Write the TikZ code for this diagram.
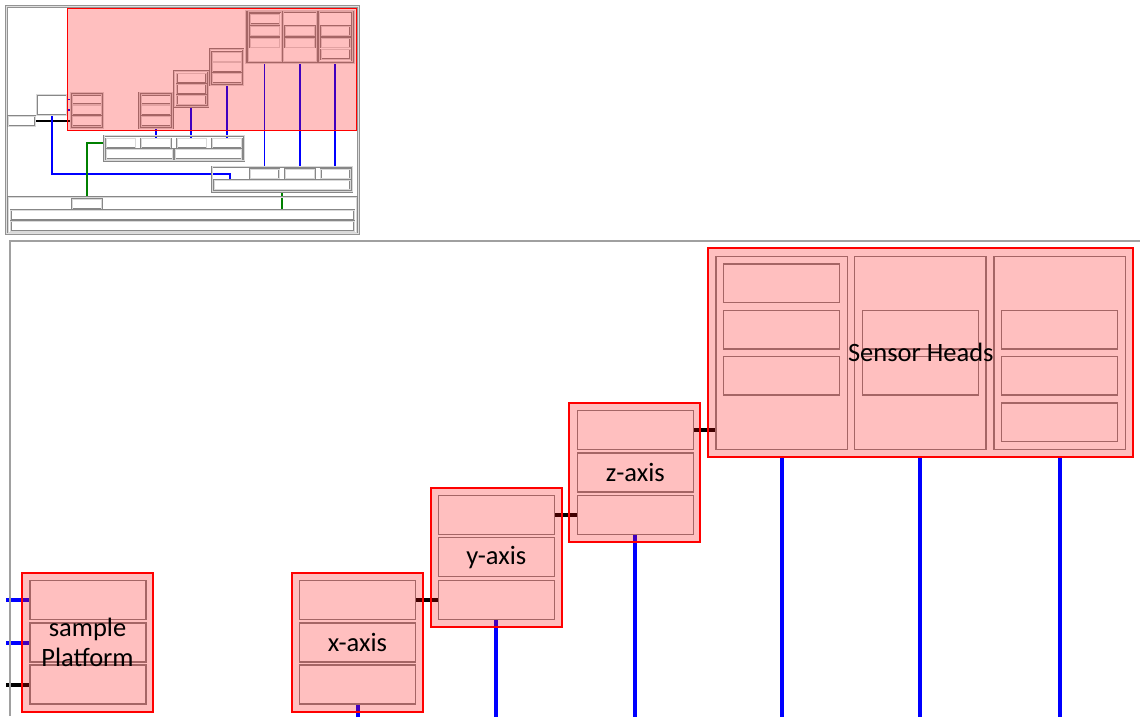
\documentclass[tikz,border=0pt]{standalone}
\usepackage{fontspec}
\setmainfont{Carlito}
\usetikzlibrary{backgrounds}
\definecolor{boxgray}{RGB}{160,160,160}
\definecolor{rowgray}{RGB}{135,135,135}
\definecolor{wireblue}{RGB}{0,0,255}
\definecolor{wiregreen}{RGB}{0,128,0}

\begin{document}
\begin{tikzpicture}[x=1pt, y=-1pt,
  every node/.style={inner sep=0pt},
  minibox/.style={draw=rowgray, line width=0.6pt, double=boxgray!40, double distance=0.6pt},
  minirow/.style={minibox, minimum width=29.4, minimum height=9.6},
  rowbox/.style={draw=rowgray, line width=1.3pt, minimum width=116, minimum height=39},
  colbox/.style={draw=rowgray, line width=1.3pt, minimum width=131.3, minimum height=193},
  selbox/.style={draw=red, line width=2pt, fill=red, fill opacity=0.25},
  wire/.style={line width=4pt},
  miniwire/.style={line width=1.8pt},
  lbl/.style={font=\fontsize{26.5}{30}\selectfont, align=center}]
\useasboundingbox (0,0) rectangle (1140,716);

% Overview frame
\draw[draw=gray!85, line width=0.8pt, double=gray!25, double distance=1pt] (6.5,6.5) rectangle (358.5,233.5);
% Overview: left boxes
\node[minibox, minimum width=26.7, minimum height=10] (msmall) at (21.7,121) {};
\node[minibox, minimum width=30, minimum height=20.7] (mwhite) at (51.7,105) {};
% Overview: platform and axes
\node[minibox, minimum width=32.6, minimum height=35.6] (msp) at (87,110.5) {};
\node[minirow] (msp1) at (87,99.5) {};
\node[minirow] (msp2) at (87,110.2) {};
\node[minirow] (msp3) at (87,121) {};
\node[minibox, minimum width=33.4, minimum height=35.6] (mxa) at (156,110.5) {};
\node[minirow] (mxa1) at (156,99.5) {};
\node[minirow] (mxa2) at (156,110.2) {};
\node[minirow] (mxa3) at (156,121) {};
\node[minibox, minimum width=34, minimum height=35.7] (mya) at (191.3,88.8) {};
\node[minirow] (mya1) at (191.3,78.3) {};
\node[minirow] (mya2) at (191.3,89) {};
\node[minirow] (mya3) at (191.3,99.8) {};
\node[minibox, minimum width=33.3, minimum height=35.7] (mza) at (226.7,67.2) {};
\node[minirow] (mza1) at (226.7,56.7) {};
\node[minirow] (mza2) at (226.7,67.3) {};
\node[minirow] (mza3) at (226.7,78.1) {};
% Overview: sensor heads
\node[minibox, minimum width=108.3, minimum height=52.6] (msh) at (299.9,37) {};
\node[minibox, minimum width=33.4, minimum height=50] (mshc1) at (265,36.7) {};
\node[minibox, minimum width=33.4, minimum height=50] (mshc2) at (300,36.7) {};
\node[minibox, minimum width=33.4, minimum height=50] (mshc3) at (335.5,36.7) {};
\node[minirow] (msh11) at (264.7,19) {};
\node[minirow] (msh12) at (264.7,30.9) {};
\node[minirow] (msh13) at (264.7,42.7) {};
\node[minirow] (msh21) at (300,30.9) {};
\node[minirow] (msh22) at (300,42.7) {};
\node[minirow] (msh31) at (335.5,30.9) {};
\node[minirow] (msh32) at (335.5,42.7) {};
\node[minirow] (msh33) at (335.5,54.3) {};
% Overview: controllers
\node[minibox, minimum width=140, minimum height=25] (mmid) at (174,148.2) {};
\node[minirow] (mm1) at (120.7,143.3) {};
\node[minirow] (mm2) at (156,143.3) {};
\node[minirow] (mm3) at (191.7,143.3) {};
\node[minirow] (mm4) at (227,143.3) {};
\node[minibox, minimum width=66.7, minimum height=9.7] (mm5) at (139.3,154.2) {};
\node[minibox, minimum width=66.4, minimum height=9.7] (mm6) at (208.5,154.2) {};
\node[minibox, minimum width=140.3, minimum height=25] (mrt) at (282.2,179.2) {};
\node[minirow] (mr1) at (264.5,173.7) {};
\node[minirow] (mr2) at (300,173.7) {};
\node[minirow] (mr3) at (335.3,173.7) {};
\node[minibox, minimum width=135.7, minimum height=9.7] (mr4) at (282.2,184.9) {};
\node[minibox, minimum width=348.4, minimum height=35.5] (mbt) at (182.5,214.8) {};
\node[minirow] (mb1) at (87,204) {};
\node[minibox, minimum width=343.3, minimum height=10] (mb2) at (182.3,215) {};
\node[minibox, minimum width=343.3, minimum height=10] (mb3) at (182.3,226) {};
% Overview: view window
\draw[draw=red, line width=1pt, fill=red, fill opacity=0.25] (67.7,8.3) rectangle (356.7,130);

% Detail view frame
\draw[draw=boxgray, line width=1.3pt] (10,716) -- (10,241) -- (1140,241);
% Sample platform
\node[rowbox] (sp1) at (88,600) {};
\node[rowbox] (sp2) at (88,642.5) {};
\node[rowbox] (sp3) at (88,684.5) {};
\node[selbox, minimum width=131, minimum height=139] (sp) at (87.5,642.5) {};
% x-axis
\node[rowbox] (xa1) at (357.5,600) {};
\node[rowbox] (xa2) at (357.5,642.5) {};
\node[rowbox] (xa3) at (357.5,684.5) {};
\node[selbox, minimum width=131, minimum height=139] (xa) at (357.5,642.5) {};
% y-axis
\node[rowbox] (ya1) at (496.3,515) {};
\node[rowbox] (ya2) at (496.3,557.3) {};
\node[rowbox] (ya3) at (496.3,599.8) {};
\node[selbox, minimum width=131, minimum height=139] (ya) at (496.6,557.5) {};
% z-axis
\node[rowbox] (za1) at (635.3,430) {};
\node[rowbox] (za2) at (635.3,472.5) {};
\node[rowbox] (za3) at (635.3,515) {};
\node[selbox, minimum width=131, minimum height=139] (za) at (634.8,472.8) {};
% Sensor heads
\node[colbox] (shc1) at (781.7,352.7) {};
\node[colbox] (shc2) at (920.3,352.7) {};
\node[colbox] (shc3) at (1059.5,352.7) {};
\node[rowbox, minimum height=38.5] (sh11) at (781.3,283.2) {};
\node[rowbox, minimum height=38.5] (sh12) at (781.3,329.8) {};
\node[rowbox, minimum height=38.5] (sh13) at (781.3,375.8) {};
\node[rowbox, minimum height=38.5] (sh21) at (920.5,329.8) {};
\node[rowbox, minimum height=38.5] (sh22) at (920.5,375.8) {};
\node[rowbox, minimum height=38.5] (sh31) at (1059.3,329.8) {};
\node[rowbox, minimum height=38.5] (sh32) at (1059.3,375.8) {};
\node[rowbox, minimum height=38.5] (sh33) at (1059.3,422.3) {};
\node[selbox, minimum width=425, minimum height=209] (sh) at (920.8,352.8) {};
% Labels
\node[lbl] (splbl) at (sp.center) {sample\\Platform};
\node[lbl] (xalbl) at (xa2.center) {x-axis};
\node[lbl] (yalbl) at (ya2.center) {y-axis};
\node[lbl] (zalbl) at (za2.center) {z-axis};
\node[lbl] (shlbl) at (sh.center) {Sensor Heads};

\begin{scope}[on background layer]
\fill[white] (0,0) rectangle (1140,716);
% Overview connections
\draw[miniwire] (msmall.east) -- (msp3.west);
\draw[miniwire, wireblue] (mwhite.east |- msp1.west) -- (msp1.west);
\draw[miniwire, wireblue] (mwhite.east |- msp2.west) -- (msp2.west);
\draw[miniwire, wireblue] (mwhite.south) -- ++(0,58) -| ([xshift=-52.2pt]mr4.north);
\draw[miniwire, wireblue] (mxa.south) -- (mxa.south |- mm2.north);
\draw[miniwire, wireblue] (mya.south) -- (mya.south |- mm3.north);
\draw[miniwire, wireblue] (mza.south) -- (mza.south |- mm4.north);
\draw[miniwire, wireblue] (mr1.north |- msh.south) -- (mr1.north);
\draw[miniwire, wireblue] (mr2.north |- msh.south) -- (mr2.north);
\draw[miniwire, wireblue] (mr3.north |- msh.south) -- (mr3.north);
\draw[miniwire, wiregreen] (mm1.west) -| (mb1.north);
\draw[miniwire, wiregreen] (mrt.south) -- (mrt.south |- mb2.north);
% Detail connections
\coordinate (in1) at (6,600);
\coordinate (in2) at (6,642.5);
\coordinate (in3) at (6,684.5);
\draw[wire, wireblue] (in1) -- (sp1.west);
\draw[wire, wireblue] (in2) -- (sp2.west);
\draw[wire] (in3) -- (sp3.west);
\draw[wire] (xa1.east) -- (xa1.east -| ya3.west);
\draw[wire] (ya1.east) -- (ya1.east -| za3.west);
\draw[wire] (za1.east) -- (za1.east -| shc1.west);
\draw[wire, wireblue] (xa3.south) -- ++(0,20);
\draw[wire, wireblue] (ya3.south) -- ++(0,110);
\draw[wire, wireblue] (za3.south) -- ++(0,200);
\draw[wire, wireblue] (shc1.south |- sh.south) -- ++(0,270);
\draw[wire, wireblue] (shc2.south |- sh.south) -- ++(0,270);
\draw[wire, wireblue] (shc3.south |- sh.south) -- ++(0,270);
\end{scope}
\end{tikzpicture}
\end{document}
